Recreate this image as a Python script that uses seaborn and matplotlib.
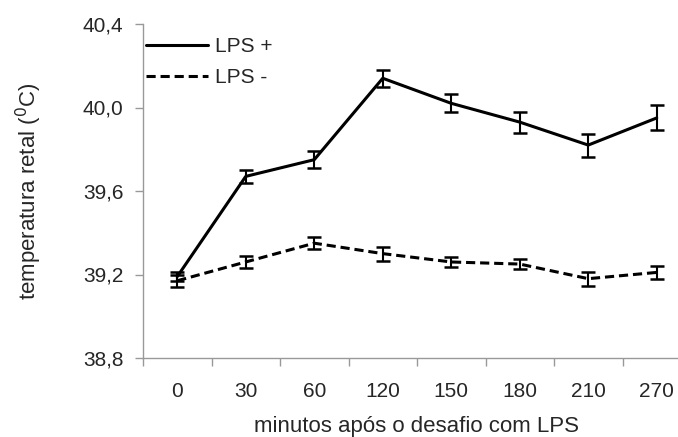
import numpy as np
import pandas as pd
import seaborn as sns
import matplotlib.pyplot as plt
from matplotlib.ticker import FixedLocator

# minutes after LPS challenge (categorical axis)
minutos = ['0', '30', '60', '120', '150', '180', '210', '270']
lps_pos = [39.19, 39.67, 39.75, 40.14, 40.02, 39.93, 39.82, 39.95]
lps_pos_err = [0.02, 0.03, 0.04, 0.04, 0.043, 0.05, 0.055, 0.06]
lps_neg = [39.17, 39.26, 39.35, 39.30, 39.26, 39.25, 39.18, 39.21]
lps_neg_err = [0.03, 0.03, 0.03, 0.034, 0.026, 0.026, 0.034, 0.03]

pos = np.arange(len(minutos))
data = pd.DataFrame({
    'x': np.concatenate([pos, pos]),
    'temp': lps_pos + lps_neg,
    'grupo': ['LPS +'] * len(minutos) + ['LPS -'] * len(minutos),
})

sns.set_style("white")
plt.rcParams['font.family'] = ['Liberation Sans', 'DejaVu Sans']

fig = plt.figure(figsize=(6.78, 4.37), dpi=100)
ax = fig.add_axes([143 / 678, 1 - 358 / 437, 548 / 678, (358 - 24) / 437])

sns.lineplot(data=data, x='x', y='temp', hue='grupo', style='grupo',
             palette={'LPS +': 'black', 'LPS -': 'black'},
             dashes={'LPS +': '', 'LPS -': (3, 1.6)},
             linewidth=2.2, ax=ax)

ax.errorbar(pos, lps_pos, yerr=lps_pos_err, fmt='none', ecolor='black',
            elinewidth=1.5, capsize=5, capthick=1.8)
ax.errorbar(pos, lps_neg, yerr=lps_neg_err, fmt='none', ecolor='black',
            elinewidth=1.5, capsize=5, capthick=1.8)

ax.set_xlim(-0.5, len(minutos) - 0.5)
ax.set_ylim(38.8, 40.4)
ax.set_yticks([38.8, 39.2, 39.6, 40.0, 40.4])
ax.set_yticklabels(['38,8', '39,2', '39,6', '40,0', '40,4'])
ax.set_xticks(pos)
ax.set_xticklabels(minutos)
ax.xaxis.set_minor_locator(FixedLocator(np.arange(-0.5, len(minutos), 1.0)))

for s in ['top', 'right']:
    ax.spines[s].set_visible(False)
for s in ['left', 'bottom']:
    ax.spines[s].set_color('#999999')
    ax.spines[s].set_linewidth(1.0)

ax.tick_params(axis='x', which='major', length=0, pad=17, labelsize=15)
ax.tick_params(axis='x', which='minor', bottom=True, length=6, color='#999999', width=1)
ax.tick_params(axis='y', which='major', left=True, length=6, color='#999999',
               width=1, pad=8, labelsize=15)

ax.set_xlabel('minutos após o desafio com LPS', fontsize=16, labelpad=11)
ax.set_ylabel('temperatura retal ($^{0}$C)', fontsize=16, labelpad=28)

leg = ax.legend(loc='upper left', frameon=False, fontsize=15, handlelength=3.0,
                handletextpad=0.3, labelspacing=0.55,
                bbox_to_anchor=(-0.01, 0.985), borderaxespad=0)
for line in leg.get_lines():
    line.set_linewidth(2.2)

fig.savefig('out.png', dpi=100)
